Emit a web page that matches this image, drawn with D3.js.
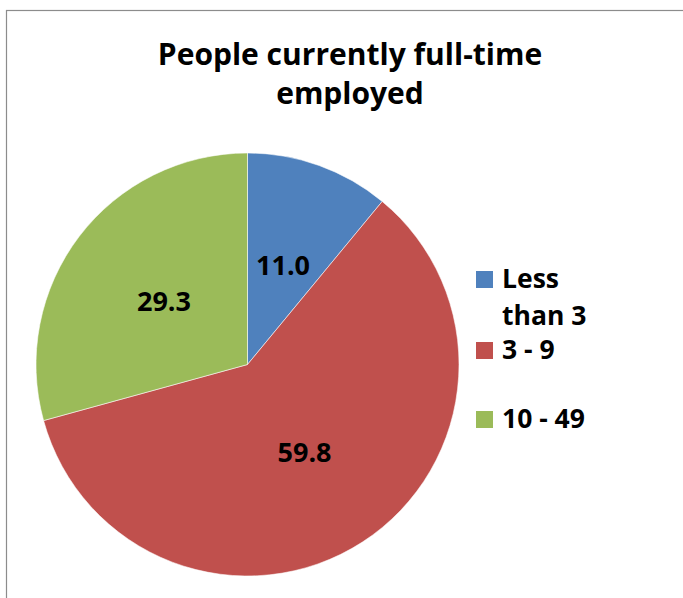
<!DOCTYPE html>
<html>
<head>
<meta charset="utf-8">
<script src="https://cdn.jsdelivr.net/npm/d3@7"></script>
<style>
  html, body { margin: 0; padding: 0; background: #fff; }
  svg { display: block; }
  text { font-family: "Open Sans", Lato, sans-serif; font-weight: bold; fill: #000; }
</style>
</head>
<body>
<svg id="chart" width="683" height="598"></svg>
<script>
// Share of firms by number of people currently employed full-time
const categories = ["Less than 3", "3 - 9", "10 - 49"];
const values = [11.0, 59.8, 29.3];
const colors = ["#4F81BD", "#C0504D", "#9BBB59"];
const legendLines = [["Less", "than 3"], ["3 - 9"], ["10 - 49"]];
const titleLines = ["People currently full-time", "employed"];

const svg = d3.select("#chart");
const W = 683, H = 598;

// chart area frame
svg.append("rect")
  .attr("x", 6.5).attr("y", 10.5)
  .attr("width", W + 10).attr("height", H + 10)
  .attr("fill", "#fff").attr("stroke", "#8c8c8c").attr("stroke-width", 1.2);

// title
const titleX = 350;
const titleY = [65, 104];
svg.selectAll("text.title").data(titleLines).join("text")
  .attr("class", "title")
  .attr("x", titleX)
  .attr("y", (d, i) => titleY[i])
  .attr("text-anchor", "middle")
  .attr("font-size", 30)
  .text(d => d);

// pie
const cx = 247.5, cy = 364.5, R = 211.5;
const pie = d3.pie().sort(null).value(d => d);
const arcs = pie(values);
const arc = d3.arc().innerRadius(0).outerRadius(R);
const labelArc = d3.arc().innerRadius(105).outerRadius(105);

const g = svg.append("g").attr("transform", `translate(${cx},${cy})`);
g.selectAll("path").data(arcs).join("path")
  .attr("d", arc)
  .attr("fill", (d, i) => colors[i])
  .attr("stroke", "rgba(255,255,255,0.55)")
  .attr("stroke-width", 1);

g.selectAll("text.value").data(arcs).join("text")
  .attr("class", "value")
  .attr("transform", d => `translate(${labelArc.centroid(d)})`)
  .attr("text-anchor", "middle")
  .attr("dy", "0.36em")
  .attr("font-size", 27)
  .text(d => d3.format(".1f")(d.data));

// legend
const legendX = 476, legendSq = 17;
const legendTextX = 502;
const legendBase = [288, 359, 428];
const lineGap = 37;
const leg = svg.append("g");
categories.forEach((c, i) => {
  leg.append("rect")
    .attr("x", legendX).attr("y", legendBase[i] - 17)
    .attr("width", legendSq).attr("height", legendSq)
    .attr("fill", colors[i]);
  const t = leg.append("text")
    .attr("x", legendTextX).attr("y", legendBase[i])
    .attr("font-size", 26.5);
  legendLines[i].forEach((ln, j) => {
    t.append("tspan").attr("x", legendTextX).attr("y", legendBase[i] + j * lineGap).text(ln);
  });
});
</script>
</body>
</html>
